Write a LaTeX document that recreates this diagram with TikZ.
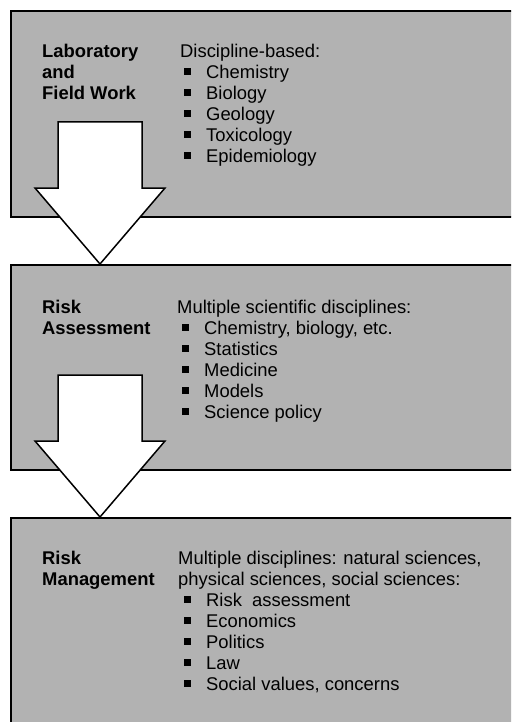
\documentclass[tikz,border=0pt]{standalone}
\usepackage{fontspec}
\setmainfont{Liberation Sans}
\usetikzlibrary{positioning}
\definecolor{stagegray}{RGB}{178,178,178}
\newcommand{\sq}{\rule[3.5pt]{7pt}{7pt}\hspace{15pt}}
\tikzset{
  stage/.style={draw=black,line width=2pt,fill=stagegray,minimum width=519pt},
  blockarrow/.style={draw=black,line width=1.5pt,fill=white,line join=miter},
  txt/.style={anchor=base west,inner sep=0pt,font=\fontsize{18.4}{21}\selectfont},
  title/.style={txt,font=\fontsize{18.4}{21}\selectfont\bfseries},
}
\begin{document}
\begin{tikzpicture}[x=1pt,y=-1pt]
\clip (0,0) rectangle (511,722);
\node[stage,minimum height=206pt] (lab) at (270.5,114) {};
\node[stage,minimum height=205pt] (ra) at (270.5,367.5) {};
\node[stage,minimum height=222pt] (rm) at (270.5,629) {};
\node[title] (lab-t1) at (42,58) {Laboratory};
\node[title] (lab-t2) at (42,79) {and};
\node[title] (lab-t3) at (42,100) {Field Work};
\node[txt] (lab-h) at (180,58) {Discipline-based:};
\foreach \t [count=\i] in {Chemistry,Biology,Geology,Toxicology,Epidemiology}
  \node[txt] (lab-\i) at (184,{58+21*\i}) {\sq\t};
\node[title] (ra-t1) at (42,313) {Risk};
\node[title] (ra-t2) at (42,334) {Assessment};
\node[txt] (ra-h) at (177,313) {Multiple scientific disciplines:};
\foreach \t [count=\i] in {{Chemistry, biology, etc.},Statistics,Medicine,Models,Science policy}
  \node[txt] (ra-\i) at (182,{313+21*\i}) {\sq\t};
\node[title] (rm-t1) at (42,564) {Risk};
\node[title] (rm-t2) at (42,585) {Management};
\node[txt] (rm-h1) at (178,564) {Multiple disciplines: natural sciences,};
\node[txt] (rm-h2) at (178,585) {physical sciences, social sciences:};
\foreach \t [count=\i] in {Risk~ assessment,Economics,Politics,Law,{Social values, concerns}}
  \node[txt] (rm-\i) at (184,{585+21*\i}) {\sq\t};
\coordinate (tip1) at (ra.north -| 100,0);
\coordinate (tip2) at (rm.north -| 100,0);
\foreach \p in {tip1,tip2}
  \draw[blockarrow] (\p) -- ++(-65,-76) -- ++(23,0) -- ++(0,-66) -- ++(84,0)
    -- ++(0,66) -- ++(23,0) -- cycle;
\end{tikzpicture}
\end{document}
